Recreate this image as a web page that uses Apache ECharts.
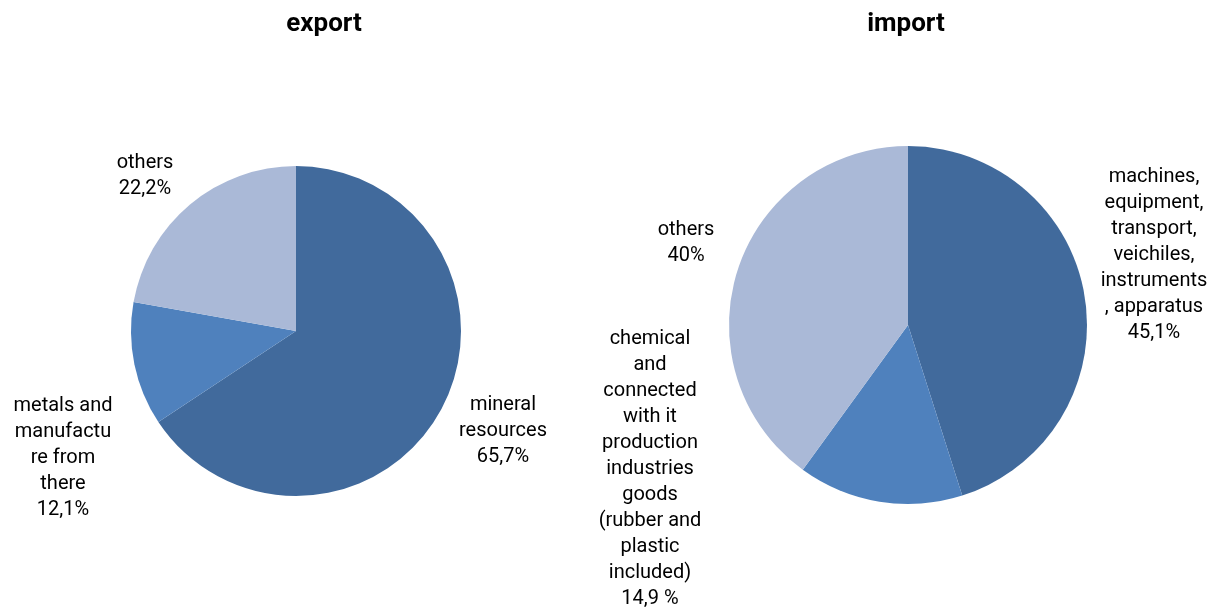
<!DOCTYPE html>
<html>
<head>
<meta charset="utf-8">
<script src="https://cdn.jsdelivr.net/npm/echarts@6/dist/echarts.min.js"></script>
<style>html,body{margin:0;padding:0;background:#fff}#c{width:1221px;height:610px}</style>
</head>
<body>
<div id="c"></div>
<script>
const exportNames = ['mineral\nresources', 'metals and\nmanufactu\nre from\nthere', 'others'];
const exportValues = [65.7, 12.1, 22.2];
const exportLabels = ['65,7%', '12,1%', '22,2%'];
const importNames = ['machines,\nequipment,\ntransport,\nveichiles,\ninstruments\n, apparatus', 'chemical\nand\nconnected\nwith it\nproduction\nindustries\ngoods\n(rubber and\nplastic\nincluded)', 'others'];
const importValues = [45.1, 14.9, 40];
const importLabels = ['45,1%', '14,9 %', '40%'];
const colors = ['#416A9C', '#4F81BD', '#AAB9D7'];

const exportLabelPos = [[503, 431], [63, 458], [145, 176]];
const importLabelPos = [[1154, 255], [650, 469], [686, 243]];

function mkData(names, values, labels) {
  return names.map((n, i) => ({ name: n, value: values[i], pct: labels[i], itemStyle: { color: colors[i] } }));
}
function mkSeries(names, values, labels, center, radius, pos) {
  return {
    type: 'pie',
    center: center,
    radius: radius,
    startAngle: 90,
    clockwise: true,
    animation: false,
    silent: true,
    data: mkData(names, values, labels),
    label: {
      show: true,
      position: 'outside',
      formatter: p => p.name + '\n' + p.data.pct,
      fontFamily: 'Roboto',
      fontSize: 20,
      lineHeight: 26,
      color: '#000',
      align: 'center',
      overflow: 'none'
    },
    labelLine: { show: false },
    labelLayout: p => ({ x: pos[p.dataIndex][0], y: pos[p.dataIndex][1], align: 'center', verticalAlign: 'middle' })
  };
}

const chart = echarts.init(document.getElementById('c'), null, { renderer: 'canvas' });
chart.setOption({
  backgroundColor: '#fff',
  title: [
    { text: 'export', left: 319, top: 6, textAlign: 'center', textStyle: { fontFamily: 'Roboto', fontWeight: 'bold', fontSize: 26, color: '#000' } },
    { text: 'import', left: 901, top: 6, textAlign: 'center', textStyle: { fontFamily: 'Roboto', fontWeight: 'bold', fontSize: 26, color: '#000' } }
  ],
  series: [
    mkSeries(exportNames, exportValues, exportLabels, [296, 331], 165, exportLabelPos),
    mkSeries(importNames, importValues, importLabels, [908, 325], 179, importLabelPos)
  ]
});
</script>
</body>
</html>
